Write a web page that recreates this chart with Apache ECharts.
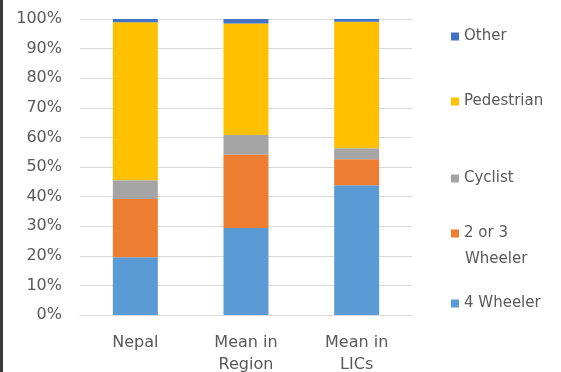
<!DOCTYPE html>
<html>
<head>
<meta charset="utf-8">
<script src="https://cdn.jsdelivr.net/npm/echarts@6/dist/echarts.min.js"></script>
<style>html,body{margin:0;padding:0;background:#fff}#c{width:561px;height:372px}</style>
</head>
<body>
<div id="c"></div>
<script>
const categories = ['Nepal', 'Mean in\nRegion', 'Mean in\nLICs'];
const fourWheeler = [19.5, 29.4, 43.8];
const twoThreeWheeler = [19.7, 24.8, 8.8];
const cyclist = [6.3, 6.6, 3.7];
const pedestrian = [53.4, 37.7, 42.8];
const other = [1.1, 1.5, 0.9];
const yTicks = [0, 10, 20, 30, 40, 50, 60, 70, 80, 90, 100];

const font = 'DejaVu Sans';
const txt = '#595959';
const chart = echarts.init(document.getElementById('c'), null, {renderer: 'canvas'});
function ser(name, data, color) {
  return {name, type: 'bar', stack: 'a', data, barWidth: 45, itemStyle: {color}};
}
function leg(name, top) {
  return {
    data: [name], left: 446, top, orient: 'vertical', itemWidth: 8, itemHeight: 8,
    icon: 'rect', selectedMode: false,
    formatter: name === '2 or 3 Wheeler' ? '2 or 3' : '{name}',
    textStyle: {fontFamily: font, fontSize: 15, color: txt}
  };
}
chart.setOption({
  animation: false,
  grid: {left: 80, right: 149, top: 19, bottom: 57, containLabel: false, outerBoundsMode: 'none'},
  xAxis: {
    type: 'category', data: categories,
    axisLine: {lineStyle: {color: '#d9d9d9'}}, axisTick: {show: false},
    axisLabel: {fontFamily: font, fontSize: 16, color: txt, lineHeight: 22, margin: 17}
  },
  yAxis: {
    type: 'value', min: 0, max: 100, interval: 10,
    axisLabel: {fontFamily: font, fontSize: 16, color: txt, margin: 18,
      formatter: v => yTicks.includes(v) ? v + '%' : ''},
    splitLine: {lineStyle: {color: '#d9d9d9'}}
  },
  legend: [
    leg('Other', 24), leg('Pedestrian', 89), leg('Cyclist', 166),
    leg('2 or 3 Wheeler', 221), leg('4 Wheeler', 291)
  ],
  graphic: [
    {type: 'rect', left: 0, top: 0, shape: {width: 3, height: 372}, style: {fill: '#3a3a3a'}},
    {type: 'text', left: 465, top: 252, style: {text: 'Wheeler', font: '15px "DejaVu Sans"', fill: txt}}
  ],
  series: [
    ser('4 Wheeler', fourWheeler, '#5B9BD5'),
    ser('2 or 3 Wheeler', twoThreeWheeler, '#ED7D31'),
    ser('Cyclist', cyclist, '#A5A5A5'),
    ser('Pedestrian', pedestrian, '#FFC000'),
    ser('Other', other, '#4472C4')
  ]
});
</script>
</body>
</html>
